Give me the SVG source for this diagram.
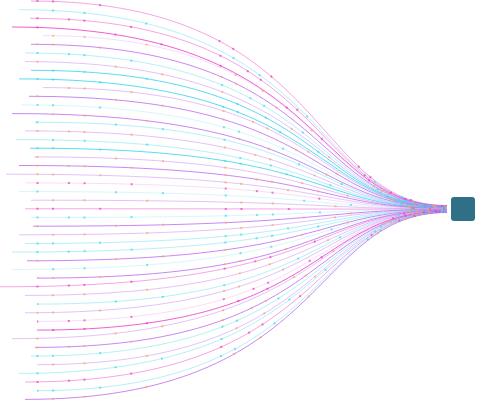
<svg xmlns="http://www.w3.org/2000/svg" xmlns:xlink="http://www.w3.org/1999/xlink" width="477" height="401" viewBox="0 0 477 401">
<style>
.M{stroke:#ee3fcb;stroke-opacity:.85}
.P{stroke:#f069d2;stroke-opacity:.6}
.V{stroke:#b75ff0;stroke-opacity:.75}
.LV{stroke:#c577f0;stroke-opacity:.45}
.VLV{stroke:#d9a0f5;stroke-opacity:.35}
.C{stroke:#2fd3ef;stroke-opacity:.8}
.LC{stroke:#5ddcf0;stroke-opacity:.45}
.VLC{stroke:#9be8f5;stroke-opacity:.4}
.VLP{stroke:#f5a8e5;stroke-opacity:.4}
.do{stroke:#ffa45c;stroke-opacity:.7}
.dc{stroke:#3ad8f0;stroke-opacity:.7}
.dm{stroke:#ea3cc4;stroke-opacity:.7}
.d1{stroke-dasharray:2 13.7 2 45.1 2 123.6}
.d2{stroke-dasharray:0 15.7 2 29.4 2 60.8 2 76.5}
.d3{stroke-dasharray:2 29.4 2 13.7 2 45.1 2 92.2}
.d4{stroke-dasharray:2 76.5 2 45.1 2 60.8}
.node{fill:#2f6f87}
</style>
<g id="connectors" fill="none" stroke-width="1">
<g class="P"><path id="c1" d="M31 1 C330 1 310 205.5 447 205.5"/></g>
<g class="LC"><path id="c2" d="M19 9.7 C330 9.7 310 205.7 447 205.7"/></g>
<g class="P"><path id="c3" d="M30 18.3 C330 18.3 310 205.8 447 205.8"/></g>
<g class="M"><path id="c4" d="M12 27 C330 27 310 206 447 206"/></g>
<g class="VLV"><path id="c5" d="M43 35.6 C330 35.6 310 206.1 447 206.1"/></g>
<g class="V"><path id="c6" d="M31 44.3 C330 44.3 310 206.3 447 206.3"/></g>
<g class="LC"><path id="c7" d="M25 53 C330 53 310 206.4 447 206.4"/></g>
<g class="LV"><path id="c8" d="M25 61.6 C330 61.6 310 206.6 447 206.6"/></g>
<g class="C"><path id="c9" d="M31 70.3 C330 70.3 310 206.8 447 206.8"/></g>
<g class="C"><path id="c10" d="M19 78.9 C330 78.9 310 206.9 447 206.9"/></g>
<g class="LV"><path id="c11" d="M43 87.6 C330 87.6 310 207.1 447 207.1"/></g>
<g class="V"><path id="c12" d="M29 96.3 C330 96.3 310 207.2 447 207.2"/></g>
<g class="VLC"><path id="c13" d="M21 104.9 C330 104.9 310 207.4 447 207.4"/></g>
<g class="V"><path id="c14" d="M12 113.6 C330 113.6 310 207.5 447 207.5"/></g>
<g class="LC"><path id="c15" d="M35 122.2 C330 122.2 310 207.7 447 207.7"/></g>
<g class="LV"><path id="c16" d="M25 130.9 C330 130.9 310 207.8 447 207.8"/></g>
<g class="LC"><path id="c17" d="M16 139.6 C330 139.6 310 208 447 208"/></g>
<g class="C"><path id="c18" d="M30 148.2 C330 148.2 310 208.1 447 208.1"/></g>
<g class="LV"><path id="c19" d="M34 156.9 C330 156.9 310 208.3 447 208.3"/></g>
<g class="V"><path id="c20" d="M19 165.5 C330 165.5 310 208.4 447 208.4"/></g>
<g class="LV"><path id="c21" d="M6 174.2 C330 174.2 310 208.6 447 208.6"/></g>
<g class="VLP"><path id="c22" d="M25 182.9 C330 182.9 310 208.7 447 208.7"/></g>
<g class="VLC"><path id="c23" d="M19 191.5 C330 191.5 310 208.9 447 208.9"/></g>
<g class="LV"><path id="c24" d="M31 200.2 C330 200.2 310 209 447 209"/></g>
<g class="P"><path id="c25" d="M25 208.8 C330 208.8 310 209.2 447 209.2"/></g>
<g class="VLC"><path id="c26" d="M31 217.5 C330 217.5 310 209.3 447 209.3"/></g>
<g class="V"><path id="c27" d="M33 226.2 C330 226.2 310 209.5 447 209.5"/></g>
<g class="LV"><path id="c28" d="M19 234.8 C330 234.8 310 209.6 447 209.6"/></g>
<g class="LC"><path id="c29" d="M25 243.5 C330 243.5 310 209.8 447 209.8"/></g>
<g class="LC"><path id="c30" d="M12 252.1 C330 252.1 310 209.9 447 209.9"/></g>
<g class="V"><path id="c31" d="M27 260.8 C330 260.8 310 210.1 447 210.1"/></g>
<g class="VLC"><path id="c32" d="M12 269.5 C330 269.5 310 210.2 447 210.2"/></g>
<g class="V"><path id="c33" d="M37 278.1 C330 278.1 310 210.4 447 210.4"/></g>
<g class="P"><path id="c34" d="M0 286.8 C330 286.8 310 210.5 447 210.5"/></g>
<g class="LV"><path id="c35" d="M25 295.4 C330 295.4 310 210.7 447 210.7"/></g>
<g class="LC"><path id="c36" d="M37 304.1 C330 304.1 310 210.8 447 210.8"/></g>
<g class="LV"><path id="c37" d="M25 312.8 C330 312.8 310 211 447 211"/></g>
<g class="VLP"><path id="c38" d="M37 321.4 C330 321.4 310 211.1 447 211.1"/></g>
<g class="M"><path id="c39" d="M37 330.1 C330 330.1 310 211.3 447 211.3"/></g>
<g class="LV"><path id="c40" d="M12 338.7 C330 338.7 310 211.4 447 211.4"/></g>
<g class="V"><path id="c41" d="M35 347.4 C330 347.4 310 211.6 447 211.6"/></g>
<g class="LC"><path id="c42" d="M31 356.1 C330 356.1 310 211.8 447 211.8"/></g>
<g class="LV"><path id="c43" d="M37 364.7 C330 364.7 310 211.9 447 211.9"/></g>
<g class="LC"><path id="c44" d="M19 373.4 C330 373.4 310 212.1 447 212.1"/></g>
<g class="P"><path id="c45" d="M25 382 C330 382 310 212.2 447 212.2"/></g>
<g class="LC"><path id="c46" d="M37 390.7 C330 390.7 310 212.4 447 212.4"/></g>
<g class="V"><path id="c47" d="M25 399.4 C330 399.4 310 212.5 447 212.5"/></g>
</g>
<g id="dots" fill="none" stroke-width="2">
<use href="#c1" class="dm d1" style="stroke-dashoffset:-5.3"/>
<use href="#c2" class="dc d2" style="stroke-dashoffset:-17.3"/>
<use href="#c3" class="dm d3" style="stroke-dashoffset:-6.3"/>
<use href="#c4" class="dm d4" style="stroke-dashoffset:-24.3"/>
<use href="#c5" class="do d2" style="stroke-dashoffset:6.7"/>
<use href="#c6" class="do d1" style="stroke-dashoffset:-5.3"/>
<use href="#c7" class="dc d3" style="stroke-dashoffset:-11.3"/>
<use href="#c8" class="do d4" style="stroke-dashoffset:-11.3"/>
<use href="#c9" class="dc d2" style="stroke-dashoffset:-5.3"/>
<use href="#c10" class="dc d1" style="stroke-dashoffset:-17.3"/>
<use href="#c11" class="do d3" style="stroke-dashoffset:6.7"/>
<use href="#c12" class="do d4" style="stroke-dashoffset:-7.3"/>
<use href="#c13" class="dc d1" style="stroke-dashoffset:-15.3"/>
<use href="#c14" class="do d2" style="stroke-dashoffset:-24.3"/>
<use href="#c15" class="dc d4" style="stroke-dashoffset:-1.3"/>
<use href="#c16" class="do d3" style="stroke-dashoffset:-11.3"/>
<use href="#c17" class="dc d2" style="stroke-dashoffset:-20.3"/>
<use href="#c18" class="dc d1" style="stroke-dashoffset:-6.3"/>
<use href="#c19" class="do d4" style="stroke-dashoffset:-2.3"/>
<use href="#c20" class="do d3" style="stroke-dashoffset:-17.3"/>
<use href="#c21" class="do d1" style="stroke-dashoffset:-30.3"/>
<use href="#c22" class="dm d3" style="stroke-dashoffset:-11.3"/>
<use href="#c23" class="dc d4" style="stroke-dashoffset:-17.3"/>
<use href="#c24" class="do d2" style="stroke-dashoffset:-5.3"/>
<use href="#c25" class="dm d1" style="stroke-dashoffset:-11.3"/>
<use href="#c26" class="dc d3" style="stroke-dashoffset:-5.3"/>
<use href="#c27" class="do d4" style="stroke-dashoffset:-3.3"/>
<use href="#c28" class="do d2" style="stroke-dashoffset:-17.3"/>
<use href="#c29" class="dc d1" style="stroke-dashoffset:-11.3"/>
<use href="#c30" class="dc d3" style="stroke-dashoffset:-24.3"/>
<use href="#c31" class="do d4" style="stroke-dashoffset:-9.3"/>
<use href="#c32" class="dc d2" style="stroke-dashoffset:-24.3"/>
<use href="#c33" class="do d1" style="stroke-dashoffset:0.7"/>
<use href="#c34" class="dm d3" style="stroke-dashoffset:-36.3"/>
<use href="#c35" class="do d2" style="stroke-dashoffset:-11.3"/>
<use href="#c36" class="dc d4" style="stroke-dashoffset:0.7"/>
<use href="#c37" class="do d1" style="stroke-dashoffset:-11.3"/>
<use href="#c38" class="dm d3" style="stroke-dashoffset:0.7"/>
<use href="#c39" class="dm d2" style="stroke-dashoffset:0.7"/>
<use href="#c40" class="do d4" style="stroke-dashoffset:-24.3"/>
<use href="#c41" class="do d3" style="stroke-dashoffset:-1.3"/>
<use href="#c42" class="dc d1" style="stroke-dashoffset:-5.3"/>
<use href="#c43" class="do d2" style="stroke-dashoffset:0.7"/>
<use href="#c44" class="dc d4" style="stroke-dashoffset:-17.3"/>
<use href="#c45" class="dm d3" style="stroke-dashoffset:-11.3"/>
<use href="#c46" class="dc d1" style="stroke-dashoffset:0.7"/>
<use href="#c47" class="do d2" style="stroke-dashoffset:-11.3"/>
</g>
<g id="node-target">
<rect class="node" x="451" y="197" width="24" height="24" rx="3"/>
</g>
</svg>
